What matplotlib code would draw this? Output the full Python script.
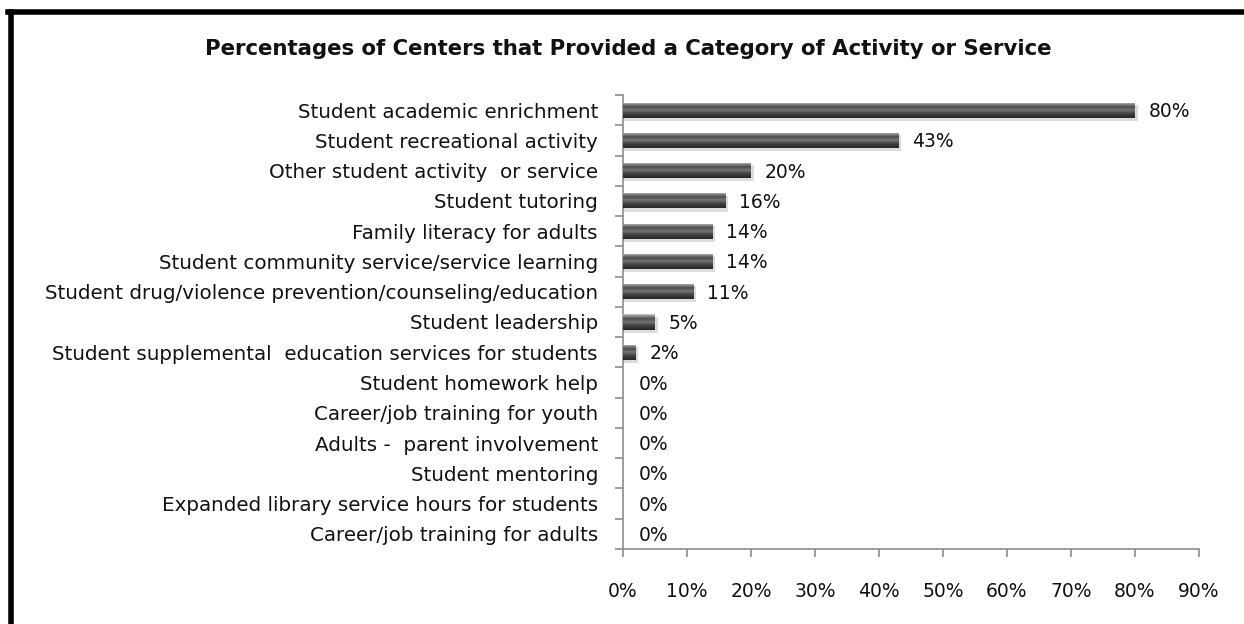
import matplotlib
matplotlib.use("Agg")
import matplotlib.pyplot as plt
import numpy as np
from matplotlib.colors import LinearSegmentedColormap
from matplotlib.patches import Rectangle

categories = [
    "Student academic enrichment",
    "Student recreational activity",
    "Other student activity  or service",
    "Student tutoring",
    "Family literacy for adults",
    "Student community service/service learning",
    "Student drug/violence prevention/counseling/education",
    "Student leadership",
    "Student supplemental  education services for students",
    "Student homework help",
    "Career/job training for youth",
    "Adults -  parent involvement",
    "Student mentoring",
    "Expanded library service hours for students",
    "Career/job training for adults",
]
values = [80, 43, 20, 16, 14, 14, 11, 5, 2, 0, 0, 0, 0, 0, 0]
xticks = [0, 10, 20, 30, 40, 50, 60, 70, 80, 90]
title = "Percentages of Centers that Provided a Category of Activity or Service"

plt.rcParams['font.family'] = ['DejaVu Sans']
FS = 13.5
FS_CAT = 14.3

fig = plt.figure(figsize=(12.44, 6.24), dpi=100)
ax = fig.add_axes([0.5008, 0.1202, 0.4630, 0.7276])

y = np.arange(len(categories))
bars = ax.barh(y, values, height=0.5, color='#4a4a4a', edgecolor='none', zorder=2)

cmap = LinearSegmentedColormap.from_list('cyl', [
    (0.0, '#d0d0d0'), (0.12, '#8a8a8a'), (0.3, '#4a4a4a'),
    (0.5, '#787878'), (0.7, '#454545'), (1.0, '#262626')])
grad = np.linspace(0, 1, 64).reshape(-1, 1)
for i, b in enumerate(bars):
    w = b.get_width()
    h = b.get_height()
    yc = b.get_y() + h / 2
    if w > 0:
        x0, y0 = b.get_x(), b.get_y()
        ax.add_patch(Rectangle((x0, y0 + h * 0.15), w + 0.4, h * 1.05,
                               color='#bbbbbb', alpha=0.5, lw=0, zorder=1))
        im = ax.imshow(grad, extent=[x0, x0 + w, y0 + h, y0], aspect='auto',
                       cmap=cmap, zorder=3, interpolation='bicubic')
        im.set_clip_path(b)
        off = 2.1
    else:
        off = 2.5
    ax.text(w + off, yc + 0.05, f"{values[i]}%", va='center', ha='left',
            fontsize=FS, color='#111111')

ax.set_ylim(len(categories) - 0.5, -0.5)
ax.set_xlim(0, 90)
ax.set_xticks(xticks)
ax.set_xticklabels([f"{t}%" for t in xticks], fontsize=FS, color='#111111')
ax.set_yticks(np.arange(len(categories) + 1) - 0.5, minor=False)
ax.set_yticklabels([])
ax.set_yticks(y, minor=True)
ax.set_yticklabels(categories, minor=True, fontsize=FS_CAT, color='#111111')
ax.tick_params(axis='y', which='minor', length=0, pad=18)
ax.tick_params(axis='y', which='major', length=6, color='#8c8c8c', width=1.2)
ax.tick_params(axis='x', length=6, color='#8c8c8c', width=1.2, pad=18)
for s in ['top', 'right']:
    ax.spines[s].set_visible(False)
for s in ['left', 'bottom']:
    ax.spines[s].set_color('#8c8c8c')
    ax.spines[s].set_linewidth(1.2)

fig.text(0.505, 0.922, title, ha='center', va='center', fontsize=15.3,
         fontweight='bold', color='#111111')

# frame
fig.add_artist(plt.Line2D([0.0085, 0.0085], [0.0, 0.981], transform=fig.transFigure, color='black', lw=4))
fig.add_artist(plt.Line2D([0.0068, 1.0], [0.981, 0.981], transform=fig.transFigure, color='black', lw=4))

fig.savefig("out.png", dpi=100)
